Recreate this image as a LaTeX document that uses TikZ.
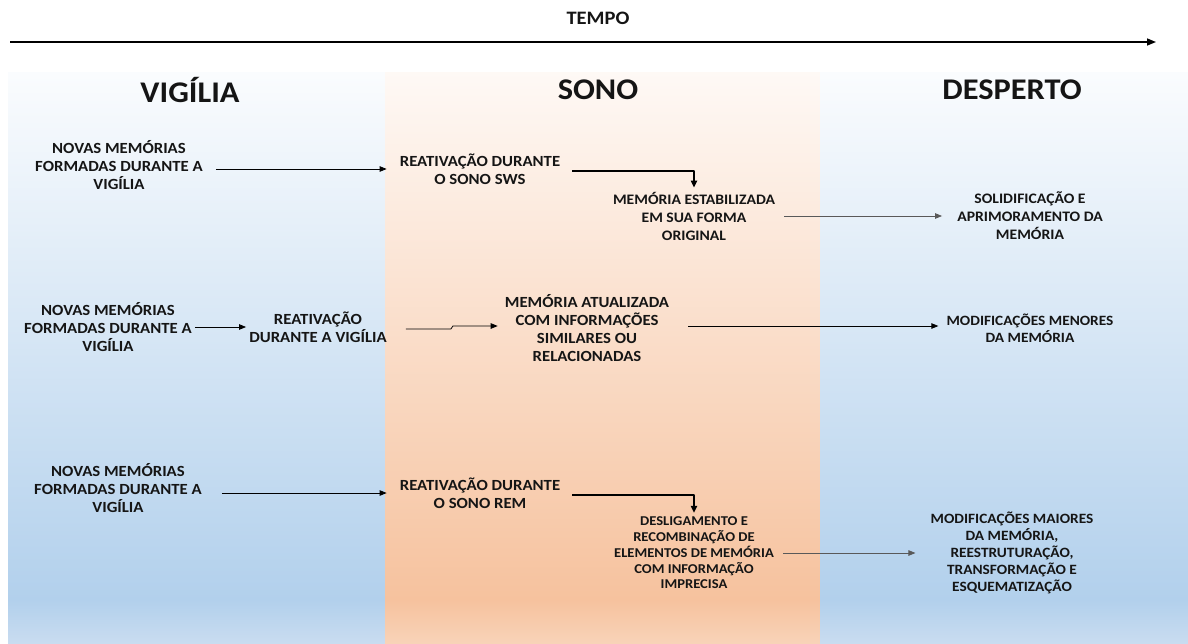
\documentclass[tikz,border=0pt]{standalone}
\usepackage{fontspec}
\setmainfont{Carlito}[FakeStretch=1.08]
\usetikzlibrary{arrows.meta,positioning}

\definecolor{sky}{HTML}{B2D0EC}
\definecolor{skylow}{HTML}{C9DCF0}
\definecolor{peach}{HTML}{F6C29E}
\definecolor{peachlow}{HTML}{F8D3B8}
\definecolor{ink}{HTML}{151515}

\tikzset{
  lbl/.style={align=center, text=ink, inner sep=2pt, font=\bfseries\fontsize{15.5}{18}\selectfont},
  lblsm/.style={lbl, font=\bfseries\fontsize{14.5}{18}\selectfont},
  lblxs/.style={lbl, font=\bfseries\fontsize{13.5}{15.7}\selectfont},
  lblmd/.style={lbl, font=\bfseries\fontsize{14.2}{16.8}\selectfont},
  phase/.style={text=ink, font=\bfseries\fontsize{30}{34}\selectfont},
  link/.style={-{Triangle[length=7pt,width=5.5pt]}, line width=0.8pt},
  link2/.style={link, draw=black!65},
  elbow/.style={-{Triangle[length=7pt,width=6pt]}, line width=1.8pt},
}

\begin{document}
\begin{tikzpicture}[x=1pt, y=-1pt, line join=round]
\useasboundingbox (0,0) rectangle (1188,643);

% fundos das tres fases
\shade[top color=sky!6, bottom color=sky] (8,72) rectangle (385,600);
\shade[top color=sky, bottom color=skylow] (8,600) rectangle (385,643);
\shade[top color=peach!10, bottom color=peach] (385,72) rectangle (820,600);
\shade[top color=peach, bottom color=peachlow] (385,600) rectangle (820,643);
\shade[top color=sky!6, bottom color=sky] (820,72) rectangle (1188,600);
\shade[top color=sky, bottom color=skylow] (820,600) rectangle (1188,643);

% eixo do tempo
\node[text=ink, font=\bfseries\fontsize{19}{22}\selectfont] (tempo) at (598,18) {TEMPO};
\coordinate (t0) at (10,42);
\coordinate (t1) at (1156,42);
\draw[link, line width=1.5pt, -{Triangle[length=9pt,width=7pt]}] (t0) -- (t1);

\node[phase] (vigilia) at (190,90) {VIGÍLIA};
\node[phase] (sono) at (598,90) {SONO};
\node[phase] (desperto) at (1012,90) {DESPERTO};

% linha 1: sono SWS
\node[lbl] (nova1) at (119,165) {NOVAS MEMÓRIAS\\FORMADAS DURANTE A\\VIGÍLIA};
\node[lbl] (sws) at (480,169) {REATIVAÇÃO DURANTE\\O SONO SWS};
\node[lblsm] (estab) at (694,216) {MEMÓRIA ESTABILIZADA\\EM SUA FORMA\\ORIGINAL};
\node[lblsm] (solid) at (1030,216) {SOLIDIFICAÇÃO E\\APRIMORAMENTO DA\\MEMÓRIA};
\draw[link, shorten <=11pt, shorten >=11pt] (nova1.east |- sws.west) -- (sws.west);
\draw[elbow, shorten <=10pt, shorten >=2pt] ([yshift=-2pt]sws.east) -| (estab.north);
\draw[link2, shorten <=7pt, shorten >=13pt] (estab.east) -- (solid.west);

% linha 2: vigilia
\node[lbl] (nova2) at (108,327) {NOVAS MEMÓRIAS\\FORMADAS DURANTE A\\VIGÍLIA};
\node[lbl] (vigre) at (318,327) {REATIVAÇÃO\\DURANTE A VIGÍLIA};
\node[lbl] (atual) at (587,328) {MEMÓRIA ATUALIZADA\\COM INFORMAÇÕES\\SIMILARES OU\\RELACIONADAS};
\node[lblmd] (menor) at (1030,328) {MODIFICAÇÕES MENORES\\DA MEMÓRIA};
\draw[link, shorten <=1pt, shorten >=1pt] (nova2.east |- vigre.west) -- (vigre.west);
\draw[link] (vigre.east) ++(17,2) -- ++(45,0) -- ++(2,-3) -- ([xshift=-5pt]atual.west |- 0,326);
\draw[link, shorten <=17pt, shorten >=6pt] (atual.east |- 0,326) -- (menor.west |- 0,326);

% linha 3: sono REM
\node[lbl] (nova3) at (118,488) {NOVAS MEMÓRIAS\\FORMADAS DURANTE A\\VIGÍLIA};
\node[lbl] (rem) at (480,493) {REATIVAÇÃO DURANTE\\O SONO REM};
\node[lblxs] (deslig) at (694,553) {DESLIGAMENTO E\\RECOMBINAÇÃO DE\\ELEMENTOS DE MEMÓRIA\\COM INFORMAÇÃO\\IMPRECISA};
\node[lblmd] (maior) at (1012,553) {MODIFICAÇÕES MAIORES\\DA MEMÓRIA,\\REESTRUTURAÇÃO,\\TRANSFORMAÇÃO E\\ESQUEMATIZAÇÃO};
\draw[link, shorten <=18pt, shorten >=11pt] (nova3.east |- rem.west) -- (rem.west);
\draw[elbow, shorten <=10pt, shorten >=2pt] ([yshift=-2pt]rem.east) -| (deslig.north);
\draw[link2, shorten <=7pt, shorten >=13pt] (deslig.east) -- (maior.west);
\end{tikzpicture}
\end{document}
